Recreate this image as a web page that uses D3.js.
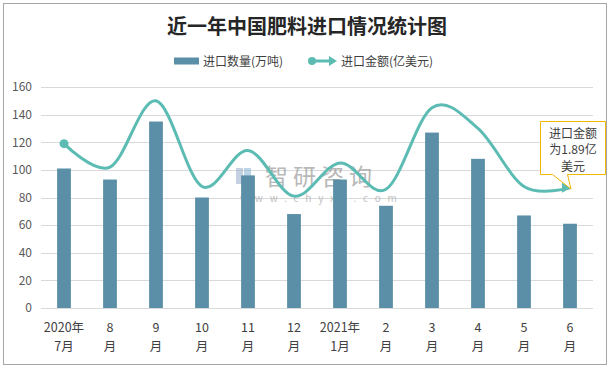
<!DOCTYPE html>
<html><head><meta charset="utf-8">
<script src="https://cdn.jsdelivr.net/npm/d3@7"></script>
<style>
html,body{margin:0;padding:0;background:#fff;}
text{font-family:"Noto Sans CJK SC","Microsoft YaHei",sans-serif;}
</style></head>
<body><svg id="c" width="610" height="369"></svg>
<script>
const categories = ["2020年7月","8月","9月","10月","11月","12月","2021年1月","2月","3月","4月","5月","6月"];
const labelLines = [["2020年","7月"],["8","月"],["9","月"],["10","月"],["11","月"],["12","月"],["2021年","1月"],["2","月"],["3","月"],["4","月"],["5","月"],["6","月"]];
const quantity = [101, 93, 135, 80, 96, 68, 93, 74, 127, 108, 67, 61];
const amount = [119, 102, 150, 88, 114, 81, 105, 86, 145, 130, 88, 87];
const yTicks = [0, 20, 40, 60, 80, 100, 120, 140, 160];
const seriesNames = ["进口数量(万吨)", "进口金额(亿美元)"];
const title = "近一年中国肥料进口情况统计图";
const note = ["进口金额", "为1.89亿", "美元"];

const svg = d3.select("#c");
const barColor = "#5b8fa8", lineColor = "#5cbcb3";

svg.append("rect").attr("x",3.5).attr("y",3.5).attr("width",603).attr("height",361)
  .attr("fill","#fff").attr("stroke","#a6a6a6").attr("stroke-width",1);

svg.append("text").attr("x",307).attr("y",34).attr("text-anchor","middle")
  .attr("font-size",20).attr("font-weight","bold").attr("fill","#262626").text(title);

// legend
const lg = svg.append("g");
lg.append("rect").attr("x",174).attr("y",57.5).attr("width",25).attr("height",7).attr("fill",barColor);
lg.append("text").attr("x",203).attr("y",65.5).attr("font-size",12).attr("fill","#404040").text(seriesNames[0]);
lg.append("line").attr("x1",312).attr("x2",330).attr("y1",61).attr("y2",61).attr("stroke",lineColor).attr("stroke-width",3);
lg.append("circle").attr("cx",312).attr("cy",61).attr("r",4).attr("fill",lineColor);
lg.append("path").attr("d","M329,56 L337,61 L329,66 Z").attr("fill",lineColor);
lg.append("text").attr("x",341).attr("y",65.5).attr("font-size",12).attr("fill","#404040").text(seriesNames[1]);

const x = d3.scaleBand().domain(categories).range([41,593]).paddingInner(0.7).paddingOuter(0.35);
const y = d3.scaleLinear().domain([0,160]).range([308,87]);

// grid
svg.append("g").selectAll("line").data(yTicks.filter(d=>d>0)).join("line")
  .attr("x1",41).attr("x2",593).attr("y1",d=>Math.round(y(d))+0.5).attr("y2",d=>Math.round(y(d))+0.5)
  .attr("stroke","#d9d9d9").attr("stroke-width",1);

// y axis labels
const ya = svg.append("g").attr("transform","translate(41,0)")
  .call(d3.axisLeft(y).tickValues(yTicks).tickSize(0).tickPadding(9));
ya.select(".domain").remove();
ya.selectAll("text").attr("font-size",12).attr("fill","#595959").attr("font-family","'Liberation Sans',Arial,sans-serif");

// watermark
const wm = svg.append("g").attr("opacity",0.6);
wm.append("rect").attr("x",236).attr("y",168).attr("width",7).attr("height",16).attr("fill","#9fb3cc");
wm.append("rect").attr("x",244).attr("y",168).attr("width",7).attr("height",16).attr("fill","#8fb8d8");
wm.append("text").attr("x",265).attr("y",185).attr("font-size",23).attr("fill","#8a8a8a").attr("letter-spacing",5).text("智研咨询");
wm.append("text").attr("x",240).attr("y",202).attr("font-size",10).attr("fill","#999").attr("letter-spacing",6.8).text("www.chyxx.com");

// bars
svg.append("g").selectAll("rect").data(quantity).join("rect")
  .attr("x",(d,i)=>x(categories[i])).attr("width",x.bandwidth())
  .attr("y",d=>y(d)).attr("height",d=>y(0)-y(d)).attr("fill",barColor);

// x axis line
svg.append("line").attr("x1",41).attr("x2",593).attr("y1",308.5).attr("y2",308.5).attr("stroke","#d9d9d9");

// x labels
const xl = svg.append("g");
labelLines.forEach((ls,i)=>{
  const cx = x(categories[i]) + x.bandwidth()/2;
  ls.forEach((t,j)=>{
    xl.append("text").attr("x",cx).attr("y",332+j*19).attr("text-anchor","middle")
      .attr("font-size",12.5).attr("fill","#404040").text(t);
  });
});

// line
const line = d3.line().x((d,i)=>x(categories[i])+x.bandwidth()/2).y(d=>y(d)).curve(d3.curveCardinal.tension(0));
const lastX = x(categories[11])+x.bandwidth()/2;
svg.append("path").datum(amount).attr("d",line).attr("fill","none")
  .attr("stroke",lineColor).attr("stroke-width",3);
svg.append("circle").attr("cx",x(categories[0])+x.bandwidth()/2).attr("cy",y(amount[0])).attr("r",4.5).attr("fill",lineColor);
svg.append("path").attr("d",`M${lastX-8},${y(amount[11])-5} L${lastX+1},${y(amount[11])} L${lastX-8},${y(amount[11])+5} Z`).attr("fill",lineColor);

// callout
const bx=540.5, by=121.5, bw=65, bh=53;
svg.append("path").attr("d",`M${bx},${by} H${bx+bw} V${by+bh} H${bx+27} L${lastX+1},189 L${bx+12},${by+bh} H${bx} Z`)
  .attr("fill","#fff").attr("stroke","#f2b800").attr("stroke-width",1);
note.forEach((t,j)=>{
  svg.append("text").attr("x",bx+bw/2).attr("y",by+16+j*16.5).attr("text-anchor","middle")
    .attr("font-size",12).attr("fill","#404040").text(t);
});
</script></body></html>
